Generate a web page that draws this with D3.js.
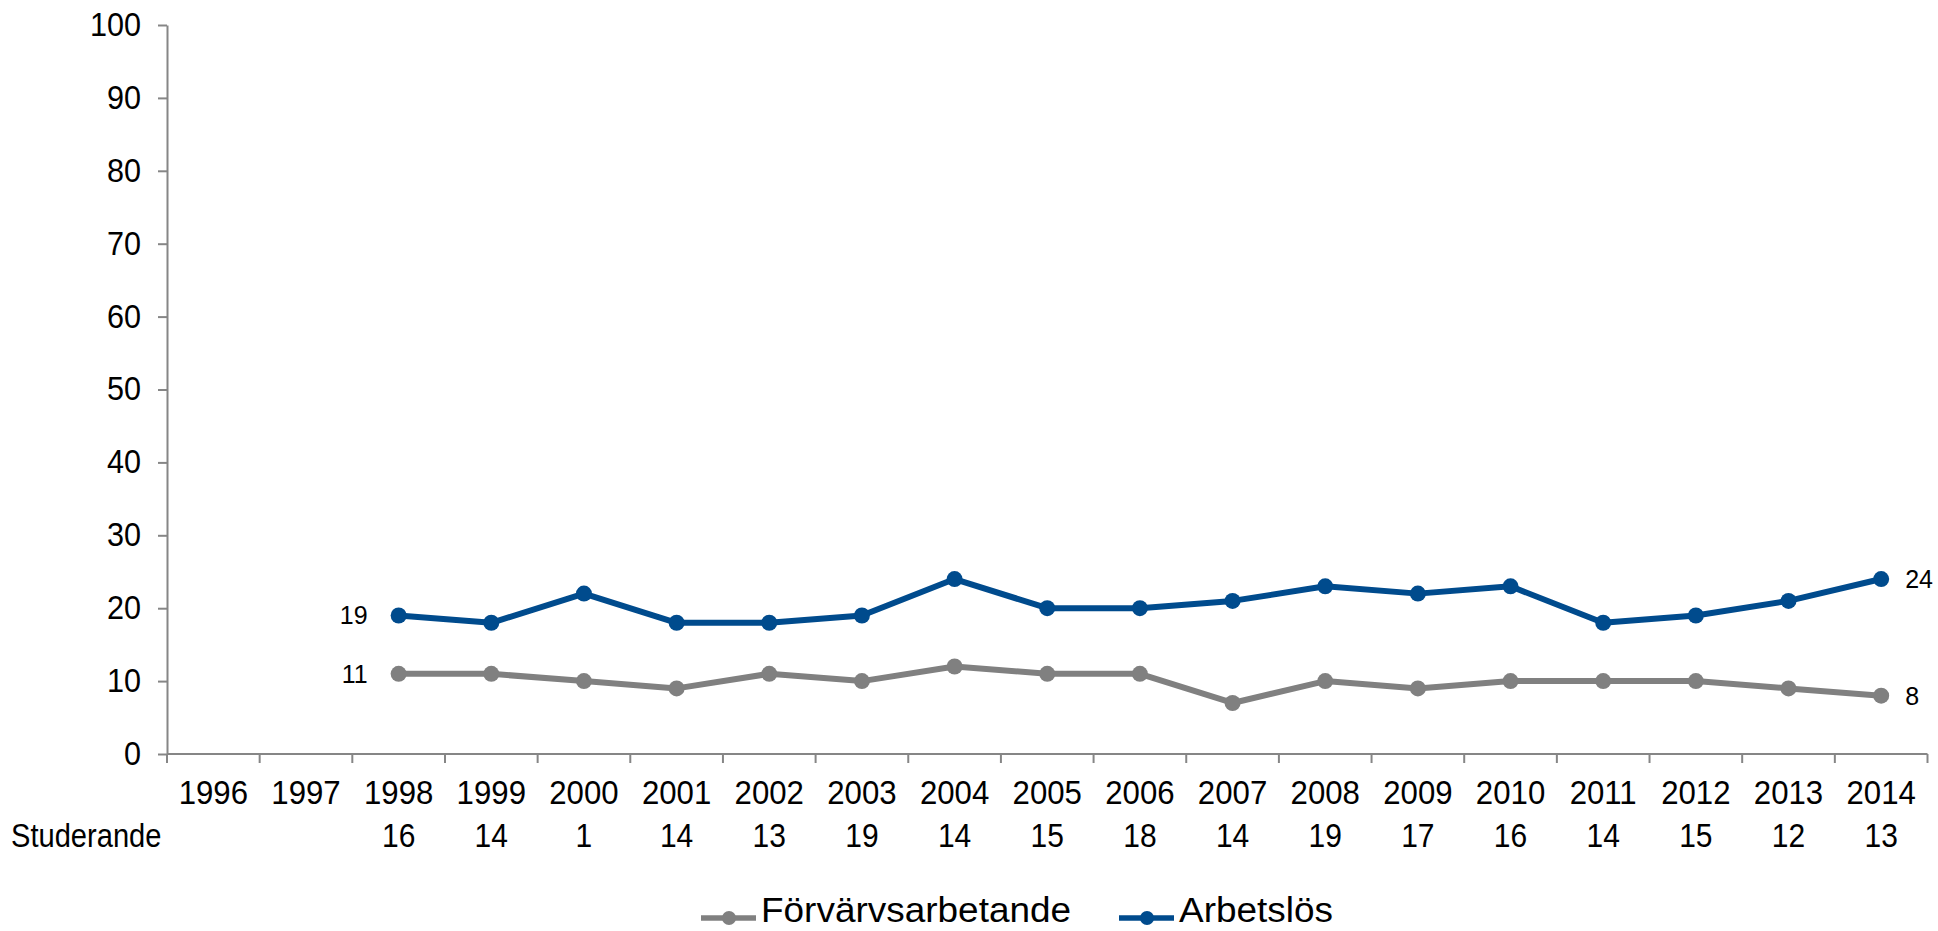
<!DOCTYPE html>
<html lang="sv">
<head>
<meta charset="UTF-8">
<title>Förvärvsarbetande och arbetslösa</title>
<style>
    body { margin: 0; padding: 0; background: #fff; }
    svg { display: block; font-family: "Liberation Sans", Arial, sans-serif; }
    .axis path, .axis line { stroke: #868686; stroke-width: 2; }
    .axis text { fill: #000; font-size: 30px; }
</style>
</head>
<body>
<div id="chart"></div>
<script src="https://cdnjs.cloudflare.com/ajax/libs/d3/7.8.5/d3.min.js"></script>
<script>
// data
const years = ["1996","1997","1998","1999","2000","2001","2002","2003","2004","2005",
               "2006","2007","2008","2009","2010","2011","2012","2013","2014"];
const forvarvsarbetande = [null,null,11,11,10,9,11,10,12,11,11,7,10,9,10,10,10,9,8];
const arbetslos = [null,null,19,18,22,18,18,19,24,20,20,21,23,22,23,18,19,21,24];
const studerande = [null,null,16,14,1,14,13,19,14,15,18,14,19,17,16,14,15,12,13];
const yTicks = [0,10,20,30,40,50,60,70,80,90,100];

const width = 1938, height = 931;
const plotLeft = 167, plotRight = 1927.5, plotTop = 25, plotBottom = 754;

// the original text is drawn a bit taller than plain Arial
function stretch(sel, sx, sy) {
    sel.attr("transform", function() {
        const t = d3.select(this);
        const x = +t.attr("x") || 0, y = +t.attr("y") || 0;
        return `translate(${x},${y}) scale(${sx},${sy}) translate(${-x},${-y})`;
    });
}

const svg = d3.select("#chart").append("svg")
    .attr("width", width)
    .attr("height", height);

const x = d3.scaleBand().domain(years).range([plotLeft, plotRight]).padding(0);
const y = d3.scaleLinear().domain([0, 100]).range([plotBottom, plotTop]);

// y axis
svg.append("g")
    .attr("class", "axis")
    .attr("transform", `translate(${plotLeft},0)`)
    .call(d3.axisLeft(y).tickValues(yTicks).tickSize(9).tickSizeOuter(0).tickPadding(17))
    .selectAll("text").attr("dy", "0.31em").call(stretch, 1.02, 1.12);

// x axis: line + ticks at category boundaries
const xg = svg.append("g").attr("class", "axis");
xg.append("line")
    .attr("x1", plotLeft).attr("x2", plotRight)
    .attr("y1", plotBottom).attr("y2", plotBottom);
const bounds = years.map(d => x(d)).concat([plotRight]);
xg.selectAll("line.tick").data(bounds).enter().append("line")
    .attr("class", "tick")
    .attr("x1", d => d).attr("x2", d => d)
    .attr("y1", plotBottom).attr("y2", plotBottom + 9);
xg.selectAll("text.year").data(years).enter().append("text")
    .attr("class", "year")
    .attr("x", d => x(d) + x.bandwidth() / 2)
    .attr("y", 804)
    .attr("text-anchor", "middle")
    .text(d => d)
    .call(stretch, 1.04, 1.12);

// Studerande row
svg.append("text")
    .attr("x", 11).attr("y", 847)
    .style("font-size", "30px")
    .text("Studerande")
    .call(stretch, 0.97, 1.1);
svg.selectAll("text.stud").data(years.map((d, i) => [d, studerande[i]]).filter(d => d[1] != null))
    .enter().append("text")
    .attr("class", "stud")
    .attr("x", d => x(d[0]) + x.bandwidth() / 2)
    .attr("y", 847)
    .attr("text-anchor", "middle")
    .style("font-size", "30px")
    .text(d => d[1])
    .call(stretch, 1, 1.1);

const cx = d => x(d.year) + x.bandwidth() / 2;

const series = [
    { name: "Förvärvsarbetande", color: "#808080", values: forvarvsarbetande },
    { name: "Arbetslös", color: "#004b8d", values: arbetslos }
];

const line = d3.line().x(cx).y(d => y(d.v));

series.forEach(s => {
    const pts = years.map((yr, i) => ({ year: yr, v: s.values[i] })).filter(d => d.v != null);
    svg.append("path")
        .datum(pts)
        .attr("d", line)
        .attr("fill", "none")
        .attr("stroke", s.color)
        .attr("stroke-width", 6)
        .attr("stroke-linejoin", "round");
    svg.selectAll(null).data(pts).enter().append("circle")
        .attr("cx", cx).attr("cy", d => y(d.v))
        .attr("r", 8)
        .attr("fill", s.color);

    // first and last value labels
    const first = pts[0], last = pts[pts.length - 1];
    svg.append("text")
        .attr("x", cx(first) - 31).attr("y", y(first.v) + 9)
        .attr("text-anchor", "end")
        .style("font-size", "25px")
        .text(first.v)
        .call(stretch, 1, 1.05);
    svg.append("text")
        .attr("x", cx(last) + 24).attr("y", y(last.v) + 9)
        .style("font-size", "25px")
        .text(last.v)
        .call(stretch, 1, 1.05);
});

// legend
const legendX = [701, 1119];
series.forEach((s, i) => {
    const g = svg.append("g").attr("transform", `translate(${legendX[i]},918)`);
    g.append("line")
        .attr("x1", 0).attr("x2", 55)
        .attr("stroke", s.color).attr("stroke-width", 5.5);
    g.append("circle").attr("cx", 28).attr("r", 7).attr("fill", s.color);
    g.append("text")
        .attr("x", 60).attr("y", 4)
        .style("font-size", "33px")
        .text(s.name)
        .call(stretch, 1.12, 1.05);
});
</script>
</body>
</html>
